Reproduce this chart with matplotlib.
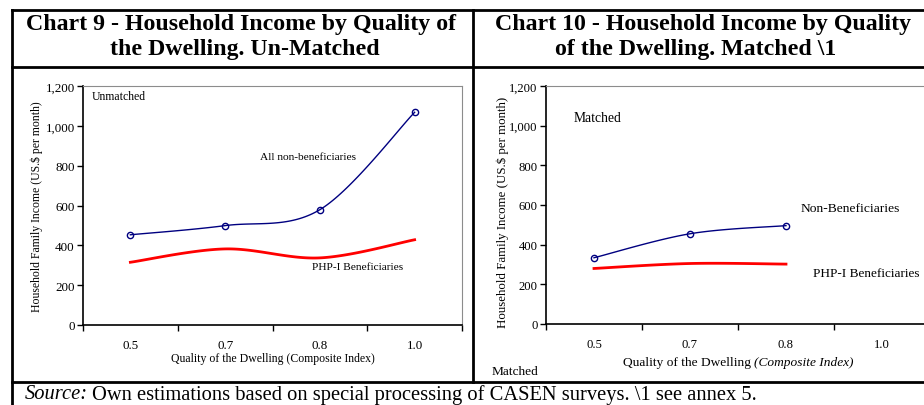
import numpy as np
import matplotlib
matplotlib.use("Agg")
import matplotlib.pyplot as plt
from matplotlib.lines import Line2D

plt.rcParams['font.family'] = ['Liberation Serif', 'DejaVu Serif']

W, H = 924, 406

categories = ['0.5', '0.7', '0.8', '1.0']
unmatched_non_benef = [453, 499, 579, 1068]
unmatched_php = [315, 382, 337, 428]
matched_non_benef = [334, 455, 496]
matched_php = [280, 305, 302]
yticks = [0, 200, 400, 600, 800, 1000, 1200]


def fx(x):
    return x / W


def fy(y):
    return 1 - y / H


def smooth(xs, ys, n=40):
    # Catmull-Rom style smoothing like spreadsheet "smoothed line"
    xs = np.asarray(xs, float)
    ys = np.asarray(ys, float)
    px = np.concatenate([[xs[0]], xs, [xs[-1]]])
    py = np.concatenate([[ys[0]], ys, [ys[-1]]])
    ox, oy = [], []
    for i in range(1, len(px) - 2):
        p0 = np.array([px[i], py[i]])
        p3 = np.array([px[i + 1], py[i + 1]])
        c1 = p0 + (np.array([px[i + 1], py[i + 1]]) - np.array([px[i - 1], py[i - 1]])) / 6
        c2 = p3 - (np.array([px[i + 2], py[i + 2]]) - np.array([px[i], py[i]])) / 6
        t = np.linspace(0, 1, n)[:, None]
        b = (1 - t) ** 3 * p0 + 3 * (1 - t) ** 2 * t * c1 + 3 * (1 - t) * t ** 2 * c2 + t ** 3 * p3
        ox.extend(b[:, 0])
        oy.extend(b[:, 1])
    return ox, oy


def make_axes(fig, left, top, right, bottom, fs):
    ax = fig.add_axes([fx(left), fy(bottom), (right - left) / W, (bottom - top) / H])
    ax.set_xlim(-0.5, 3.5)
    ax.set_ylim(0, 1200)
    ax.set_xticks([-0.5, 0.5, 1.5, 2.5, 3.5])
    ax.set_xticklabels([])
    ax.set_xticks(range(4), minor=True)
    ax.set_xticklabels(categories, minor=True)
    ax.tick_params(axis='x', which='minor', length=0, pad=10, labelsize=fs)
    ax.tick_params(axis='x', which='major', length=4, width=1, direction='out')
    ax.set_yticks(yticks)
    ax.set_yticklabels([f"{v:,}" for v in yticks])
    ax.tick_params(axis='y', length=4, width=1, direction='out', labelsize=fs, pad=2)
    for s in ['top', 'right']:
        ax.spines[s].set_color('#8c8c8c')
        ax.spines[s].set_linewidth(0.8)
    for s in ['left', 'bottom']:
        ax.spines[s].set_color('black')
        ax.spines[s].set_linewidth(1.2)
    return ax


fig = plt.figure(figsize=(W / 100, H / 100), dpi=100)

# table frame
lw = 2.0
for (x0, y0, x1, y1) in [(12, 11, 930, 11), (12, 68, 930, 68), (12, 383, 930, 383),
                         (12, 11, 12, 406), (473, 11, 473, 383)]:
    fig.add_artist(Line2D([fx(x0), fx(x1)], [fy(y0), fy(y1)], color='black', lw=lw))

# titles
tkw = dict(ha='center', va='baseline', fontsize=17.2, fontweight='bold')
fig.text(fx(241), fy(30), "Chart 9 - Household Income by Quality of", **tkw)
fig.text(fx(245), fy(55), "the Dwelling. Un-Matched", **tkw)
fig.text(fx(703), fy(30), "Chart 10 - Household Income by Quality", **tkw)
fig.text(fx(696), fy(55), "of the Dwelling. Matched \\1", **tkw)

# left chart
ax1 = make_axes(fig, 83, 87, 462, 326, 9.4)
x = range(len(unmatched_non_benef))
sx, sy = smooth(x, unmatched_non_benef)
ax1.plot(sx, sy, color='#000080', lw=1.0)
ax1.plot(x, unmatched_non_benef, 'o', mfc='none', mec='#000080', ms=4.5, mew=1.0)
sx, sy = smooth(range(len(unmatched_php)), unmatched_php)
ax1.plot(sx, sy, color='#ff0000', lw=2.0)
fig.text(fx(92), fy(97), "Unmatched", fontsize=8.5, va='center')
fig.text(fx(260), fy(157), "All non-beneficiaries", fontsize=8.2, va='center')
fig.text(fx(312), fy(267), "PHP-I Beneficiaries", fontsize=8.2, va='center')
fig.text(fx(273), fy(359), "Quality of the Dwelling (Composite Index)", ha='center', va='center', fontsize=8.5)
fig.text(fx(37), fy(207), "Household Family Income (US.$ per month)", rotation=90,
         ha='center', va='center', fontsize=8.5)

# right chart
ax2 = make_axes(fig, 546, 87, 930, 325, 9.1)
x = range(len(matched_non_benef))
sx, sy = smooth(x, matched_non_benef)
ax2.plot(sx, sy, color='#000080', lw=1.0)
ax2.plot(x, matched_non_benef, 'o', mfc='none', mec='#000080', ms=4.5, mew=1.0)
sx, sy = smooth(range(len(matched_php)), matched_php)
ax2.plot(sx, sy, color='#ff0000', lw=2.0)
fig.text(fx(574), fy(118), "Matched", fontsize=9.8, va='center')
fig.text(fx(801), fy(209), "Non-Beneficiaries", fontsize=9.7, va='center')
fig.text(fx(813), fy(274), "PHP-I Beneficiaries", fontsize=9.5, va='center')
fig.text(fx(492), fy(372), "Matched", fontsize=9.6, va='center')
fig.text(fx(503), fy(212), "Household Family Income (US.$ per month)", rotation=90,
         ha='center', va='center', fontsize=9.3)

renderer = fig.canvas.get_renderer()
t1 = fig.text(fx(623), fy(363), "Quality of the Dwelling ", fontsize=9.6, va='center')
bb = t1.get_window_extent(renderer)
fig.text(bb.x1 / W, fy(363), "(Composite Index)", fontsize=9.6, va='center', style='italic')

# source line
t2 = fig.text(fx(25), fy(395), "Source:", fontsize=14.8, va='center', style='italic')
bb = t2.get_window_extent(renderer)
fig.text(bb.x1 / W + 0.004, fy(395),
         "Own estimations based on special processing of CASEN surveys. \\1 see annex 5.",
         fontsize=14.8, va='center')

fig.savefig("out.png", dpi=100)
